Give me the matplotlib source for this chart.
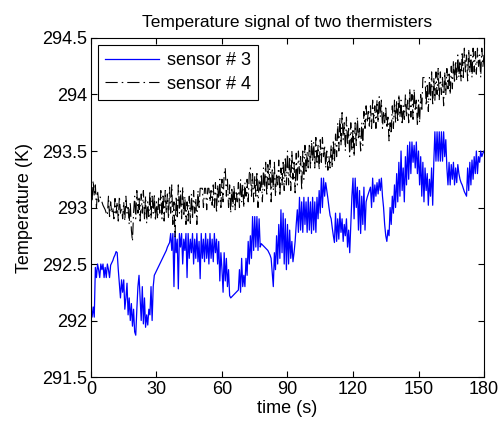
import numpy as np
import matplotlib
matplotlib.use("Agg")
import matplotlib.pyplot as plt

# readings taken every 0.5 s, one row = 10 s
dt = 0.5

sensor3 = [
    292.12, 292.03, 292.12, 292.03, 292.47, 292.38, 292.5, 292.45, 292.38, 292.5, 292.45, 292.5, 292.38, 292.47, 292.38, 292.5, 292.45, 292.38, 292.49, 292.51,
    292.53, 292.56, 292.58, 292.61, 292.6, 292.45, 292.33, 292.2, 292.36, 292.25, 292.36, 292.1, 292.2, 292.33, 292.05, 292.2, 292.0, 292.15, 291.95, 292.1,
    291.9, 291.87, 292.1, 292.3, 292.4, 292.2, 292.0, 292.3, 291.97, 292.2, 291.94, 292.05, 291.96, 292.1, 292.05, 292.3, 292.0, 292.3, 292.4, 292.42,
    292.44, 292.46, 292.48, 292.5, 292.52, 292.54, 292.56, 292.58, 292.6, 292.62, 292.65, 292.67, 292.69, 292.77, 292.62, 292.77, 292.3, 292.77, 292.6, 292.72,
    292.28, 292.77, 292.65, 292.77, 292.5, 292.72, 292.62, 292.77, 292.38, 292.77, 292.55, 292.72, 292.6, 292.77, 292.5, 292.72, 292.55, 292.77, 292.52, 292.7,
    292.37, 292.77, 292.55, 292.72, 292.52, 292.77, 292.55, 292.72, 292.5, 292.77, 292.55, 292.72, 292.52, 292.77, 292.6, 292.72, 292.5, 292.7, 292.35, 292.6,
    292.45, 292.25, 292.6, 292.35, 292.55, 292.3, 292.45, 292.22, 292.2, 292.21, 292.22, 292.23, 292.24, 292.25, 292.26, 292.27, 292.45, 292.25, 292.55, 292.3,
    292.4, 292.3, 292.55, 292.4, 292.7, 292.5, 292.75, 292.55, 292.92, 292.62, 292.92, 292.65, 292.92, 292.62, 292.9, 292.65, 292.68, 292.67, 292.66, 292.65,
    292.64, 292.63, 292.62, 292.6, 292.58, 292.55, 292.42, 292.3, 292.6, 292.45, 292.75, 292.5, 292.85, 292.55, 292.98, 292.6, 292.95, 292.5, 292.9, 292.45,
    292.85, 292.5, 292.8, 292.55, 292.7, 292.52, 292.6, 292.7, 292.85, 292.98, 292.78, 293.09, 292.8, 293.05, 292.78, 293.09, 292.85, 293.05, 292.78, 293.09,
    292.8, 293.05, 292.77, 293.09, 292.8, 293.05, 292.78, 293.09, 292.9, 293.15, 292.95, 293.26, 293.0, 293.26, 293.1, 293.22, 293.15, 293.08, 293.0, 292.93,
    292.9, 292.82, 292.75, 292.69, 292.95, 292.7, 292.9, 292.72, 292.95, 292.78, 292.9, 292.7, 292.85, 292.75, 292.9, 292.65, 292.8, 292.6, 292.85, 293.1,
    293.26, 292.9, 293.26, 293.0, 293.18, 292.8, 293.15, 292.77, 293.1, 292.85, 293.18, 292.8, 293.05, 293.09, 293.12, 293.15, 293.18, 293.0, 293.26, 293.05,
    293.2, 293.1, 293.22, 293.12, 293.25, 293.15, 293.26, 293.1, 293.0, 292.85, 292.75, 292.7, 292.8, 292.75, 293.0, 292.85, 293.1, 292.95, 293.2, 293.0,
    293.3, 293.05, 293.4, 293.1, 293.5, 293.15, 293.35, 293.05, 293.45, 293.2, 293.55, 293.25, 293.58, 293.3, 293.58, 293.4, 293.55, 293.35, 293.58, 293.3,
    293.5, 293.2, 293.45, 293.1, 293.4, 293.05, 293.35, 293.15, 293.3, 293.02, 293.25, 293.1, 293.35, 293.02, 293.4, 293.67, 293.41, 293.67, 293.41, 293.67,
    293.41, 293.67, 293.41, 293.67, 293.45, 293.6, 293.35, 293.2, 293.4, 293.2, 293.38, 293.25, 293.4, 293.2, 293.35, 293.22, 293.38, 293.3, 293.25, 293.22,
    293.2, 293.17, 293.14, 293.12, 293.1, 293.35, 293.15, 293.4, 293.2, 293.42, 293.25, 293.45, 293.3, 293.5, 293.3, 293.45, 293.4, 293.5, 293.45, 293.48,
    293.5,
]

sensor4 = [
    293.22, 293.05, 293.24, 293.1, 293.2, 293.0, 293.15, 293.05, 293.1, 293.08, 293.05, 293.02, 293.0, 292.98, 292.95, 292.93, 293.1, 292.92, 293.05, 292.95,
    293.0, 292.9, 293.08, 292.95, 293.05, 292.88, 293.1, 292.95, 293.0, 292.9, 293.05, 292.88, 293.1, 292.95, 293.0, 292.85, 293.05, 292.8, 292.7, 292.95,
    293.1, 292.9, 293.15, 292.95, 293.1, 292.88, 293.12, 292.95, 293.15, 292.9, 293.1, 292.86, 293.05, 292.92, 293.15, 292.9, 293.1, 292.95, 293.12, 292.88,
    293.05, 292.9, 293.1, 292.95, 293.15, 292.9, 293.12, 292.88, 293.15, 292.95, 293.12, 292.9, 293.18, 292.95, 293.2, 292.85, 293.05, 292.74, 293.1, 292.9,
    293.2, 292.95, 293.15, 292.9, 293.18, 292.92, 293.1, 292.85, 293.05, 292.88, 293.1, 292.86, 293.12, 292.9, 293.15, 292.95, 293.08, 292.85, 293.15, 293.0,
    293.17, 293.17, 293.17, 293.0, 293.17, 293.17, 292.98, 293.17, 293.17, 293.05, 293.15, 293.02, 293.2, 293.0, 293.22, 292.95, 293.2, 293.05, 293.25, 293.0,
    293.25, 293.05, 293.3, 293.35, 293.1, 293.25, 293.0, 293.2, 292.95, 293.18, 293.0, 293.2, 292.98, 293.15, 293.05, 293.22, 293.0, 293.25, 293.05, 293.2,
    293.0, 293.22, 293.1, 293.25, 293.05, 293.3, 293.35, 293.1, 293.3, 293.05, 293.28, 293.1, 293.32, 293.0, 293.25, 293.15, 293.3, 293.05, 293.35, 293.15,
    293.4, 293.1, 293.38, 293.2, 293.42, 293.05, 293.35, 293.15, 293.4, 293.1, 293.3, 293.2, 293.42, 293.1, 293.35, 293.2, 293.4, 293.15, 293.45, 293.2,
    293.5, 293.2, 293.45, 293.15, 293.5, 293.25, 293.4, 293.13, 293.48, 293.2, 293.5, 293.3, 293.45, 293.15, 293.5, 293.25, 293.55, 293.3, 293.5, 293.35,
    293.55, 293.35, 293.6, 293.4, 293.58, 293.35, 293.62, 293.38, 293.55, 293.33, 293.6, 293.4, 293.62, 293.45, 293.55, 293.35, 293.5, 293.33, 293.45, 293.35,
    293.55, 293.35, 293.6, 293.4, 293.65, 293.45, 293.75, 293.5, 293.8, 293.55, 293.84, 293.6, 293.75, 293.5, 293.8, 293.55, 293.7, 293.45, 293.75, 293.5,
    293.7, 293.45, 293.75, 293.55, 293.8, 293.6, 293.7, 293.5, 293.75, 293.55, 293.85, 293.7, 293.9, 293.75, 293.85, 293.72, 293.9, 293.7, 293.95, 293.75,
    293.9, 293.7, 293.95, 293.75, 293.98, 293.8, 293.95, 293.7, 293.85, 293.75, 293.9, 293.7, 293.8, 293.59, 293.75, 293.65, 293.9, 293.7, 293.95, 293.75,
    293.95, 293.75, 294.0, 293.8, 293.95, 293.73, 293.9, 293.78, 294.0, 293.8, 293.95, 293.75, 294.05, 293.8, 294.0, 293.78, 294.05, 293.85, 293.95, 293.72,
    293.95, 293.75, 294.0, 293.85, 294.15, 294.15, 294.15, 293.9, 294.1, 293.85, 294.15, 293.95, 294.2, 293.9, 294.15, 293.95, 294.2, 294.0, 294.23, 293.95,
    294.2, 294.0, 294.15, 293.9, 294.2, 294.0, 294.23, 294.05, 294.2, 294.0, 294.25, 294.05, 294.3, 294.1, 294.3, 294.12, 294.35, 294.15, 294.3, 294.12,
    294.38, 294.15, 294.41, 294.2, 294.35, 294.12, 294.4, 294.2, 294.35, 294.15, 294.41, 294.2, 294.38, 294.18, 294.41, 294.25, 294.35, 294.15, 294.41, 294.25,
    294.35,
]

xticks = [0, 30, 60, 90, 120, 150, 180]
yticks = [291.5, 292, 292.5, 293, 293.5, 294, 294.5]
ytick_labels = ["291.5", "292", "292.5", "293", "293.5", "294", "294.5"]

t = np.arange(len(sensor3)) * dt

plt.rcParams["font.family"] = ["Liberation Sans", "DejaVu Sans"]

fig = plt.figure(figsize=(4.98, 4.25), dpi=100)
ax = fig.add_axes([0.1827, 0.1129, 0.7892, 0.7977])

ax.plot(t, sensor3, color="#0000ff", lw=0.9, label="sensor # 3")
ax.plot(t, sensor4, color="black", lw=0.8, linestyle=(0, (11, 3.6, 1.4, 3.6)), label="sensor # 4")

ax.set_xlim(0, 180)
ax.set_ylim(291.5, 294.5)
ax.set_xticks(xticks)
ax.set_yticks(yticks)
ax.set_yticklabels(ytick_labels)
ax.tick_params(direction="in", top=True, right=True, labelsize=13, length=4, pad=3)
for s in ax.spines.values():
    s.set_linewidth(0.8)

ax.set_xlabel("time (s)", fontsize=13, labelpad=1)
ax.set_ylabel("Temperature (K)", fontsize=13, labelpad=6)
ax.set_title("Temperature signal of two thermisters", fontsize=12.5, pad=8)

leg = ax.legend(loc="upper left", bbox_to_anchor=(0.018, 0.979), borderaxespad=0,
                fancybox=False, framealpha=1, edgecolor="black", fontsize=13,
                handlelength=3.0, handletextpad=0.4, borderpad=0.4, labelspacing=0.35)
leg.get_frame().set_linewidth(0.8)

fig.savefig("out.png", dpi=100)
